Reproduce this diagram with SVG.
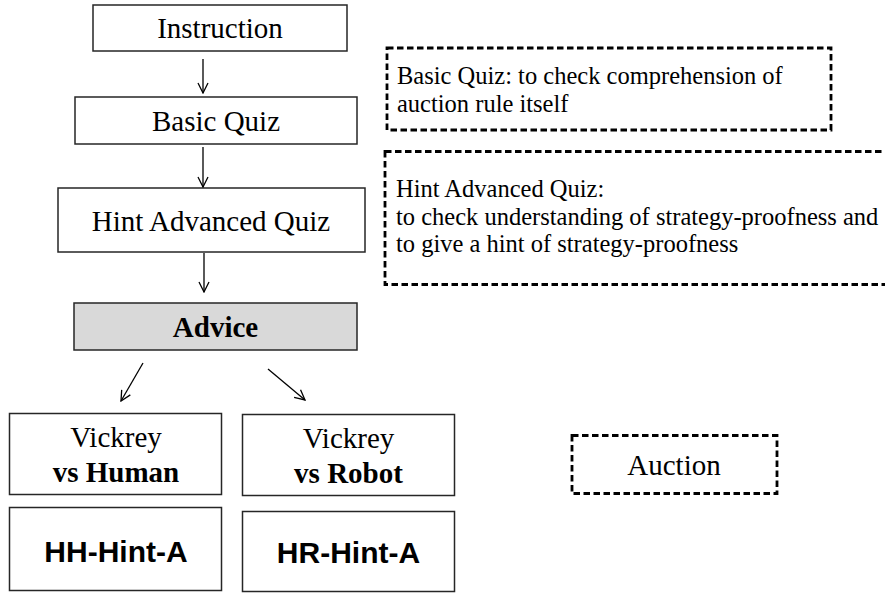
<svg xmlns="http://www.w3.org/2000/svg" width="885" height="594" viewBox="0 0 885 594">
<style>
.box{fill:#fff;stroke:#262626;stroke-width:1.5}
.gray{fill:#d9d9d9;stroke:#262626;stroke-width:1.5}
.dash{fill:none;stroke:#000;stroke-width:2.8;stroke-dasharray:6.5 3.5}
.t{font-family:"Liberation Serif",serif;font-size:29px;fill:#000;text-anchor:middle}
.b{font-weight:bold}
.s{font-family:"Liberation Serif",serif;font-size:24.5px;fill:#000}
.a{font-family:"Liberation Sans",Arial,sans-serif;font-size:30px;font-weight:bold;fill:#000;text-anchor:middle}
.c{stroke:#000;stroke-width:1.3;fill:none}
</style>
<defs>
<marker id="arr" viewBox="0 0 12 12" refX="11" refY="6" markerWidth="12" markerHeight="12" markerUnits="userSpaceOnUse" orient="auto">
<path d="M1,1 L11,6 L1,11" fill="none" stroke="#000" stroke-width="1.3"/>
</marker>
</defs>
<g id="instruction"><rect class="box" x="93" y="5" width="254" height="46"/><text class="t" x="220" y="38">Instruction</text></g>
<g id="basic-quiz"><rect class="box" x="75" y="97" width="282" height="47"/><text class="t" x="216" y="131">Basic Quiz</text></g>
<g id="hint-advanced-quiz"><rect class="box" x="58" y="188" width="307" height="64"/><text class="t" x="211" y="231">Hint Advanced Quiz</text></g>
<g id="advice"><rect class="gray" x="74" y="303" width="283" height="47"/><text class="t b" x="215.5" y="336.5">Advice</text></g>
<g id="vickrey-human"><rect class="box" x="9.5" y="413.5" width="212" height="81"/><text class="t" x="116" y="446.5">Vickrey</text><text class="t b" x="116" y="482">vs Human</text></g>
<g id="vickrey-robot"><rect class="box" x="242.5" y="414.5" width="212" height="81"/><text class="t" x="348.5" y="448">Vickrey</text><text class="t b" x="348.5" y="483">vs Robot</text></g>
<g id="hh-hint-a"><rect class="box" x="9.5" y="507.5" width="212" height="83"/><text class="a" x="116" y="562">HH-Hint-A</text></g>
<g id="hr-hint-a"><rect class="box" x="242.5" y="511.5" width="212" height="80"/><text class="a" x="348.5" y="563">HR-Hint-A</text></g>
<g id="note-basic"><rect class="dash" x="387" y="48" width="444" height="82"/><text class="s" x="397" y="84">Basic Quiz: to check comprehension of</text><text class="s" x="397" y="112">auction rule itself</text></g>
<g id="note-hint"><rect class="dash" x="385" y="151.5" width="520" height="133"/><text class="s" x="396" y="197">Hint Advanced Quiz:</text><text class="s" x="396" y="224.5">to check understanding of strategy-proofness and</text><text class="s" x="396" y="251.5">to give a hint of strategy-proofness</text></g>
<g id="auction"><rect class="dash" x="572" y="435.5" width="205" height="58"/><text class="t" x="674" y="475">Auction</text></g>
<g id="connectors">
<line class="c" x1="203" y1="59" x2="203" y2="93" marker-end="url(#arr)"/>
<line class="c" x1="203" y1="147" x2="203" y2="187" marker-end="url(#arr)"/>
<line class="c" x1="204" y1="253" x2="204" y2="292" marker-end="url(#arr)"/>
<line class="c" x1="143" y1="363" x2="121" y2="401" marker-end="url(#arr)"/>
<line class="c" x1="268" y1="369" x2="305" y2="400" marker-end="url(#arr)"/>
</g>
</svg>
